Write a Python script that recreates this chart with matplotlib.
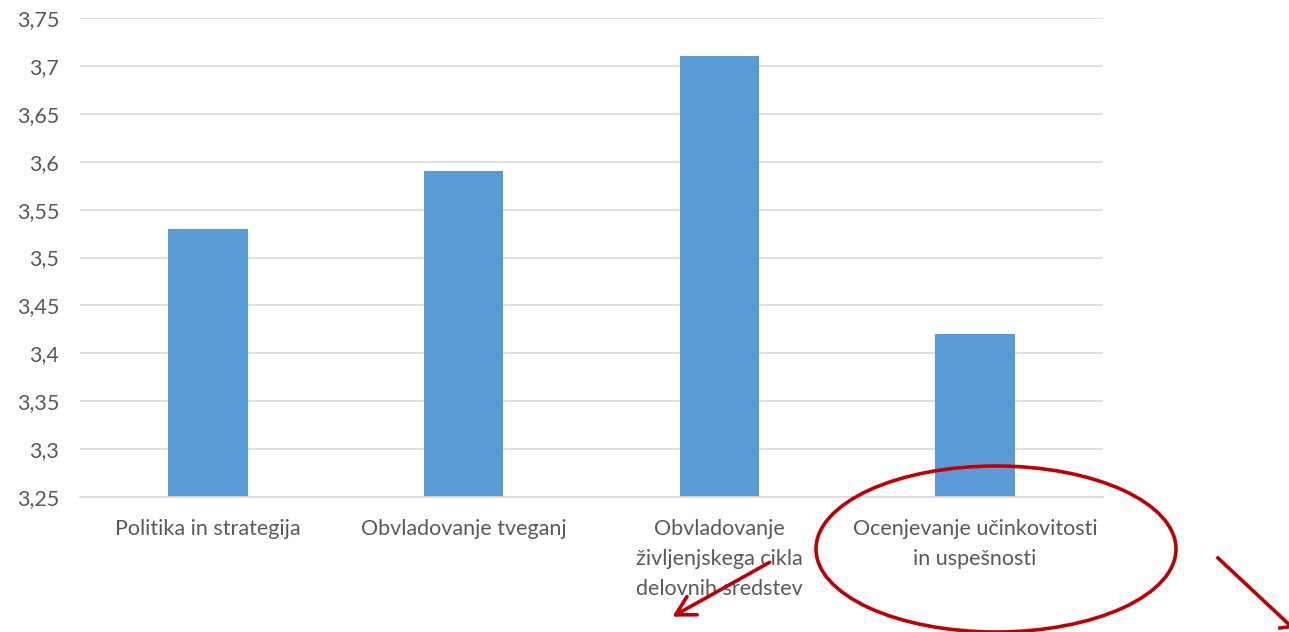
import numpy as np
import matplotlib.pyplot as plt
from matplotlib.patches import Ellipse, FancyArrowPatch
from matplotlib.ticker import FuncFormatter, MultipleLocator

categories = [
    "Politika in strategija",
    "Obvladovanje tveganj",
    "Obvladovanje\nživljenjskega cikla\ndelovnih sredstev",
    "Ocenjevanje učinkovitosti\nin uspešnosti",
]
values = [3.53, 3.59, 3.71, 3.42]

bar_color = "#5B9BD5"
grid_color = "#D9D9D9"
text_color = "#595959"
red = "#C00000"

plt.rcParams['font.family'] = ['Lato', 'DejaVu Sans']

fig = plt.figure(figsize=(12.89, 6.32), dpi=100)
ax = fig.add_axes([80 / 1289, 1 - 497 / 632, 1023 / 1289, 479 / 632])

x = np.arange(len(categories))
ax.bar(x, values, width=0.31, color=bar_color, zorder=2)

ax.set_xlim(-0.5, len(categories) - 0.5)
ax.set_ylim(3.25, 3.75)
ax.yaxis.set_major_locator(MultipleLocator(0.05))
ax.yaxis.set_major_formatter(FuncFormatter(lambda v, p: f"{round(v, 2):g}".replace('.', ',')))
ax.set_xticks(x)
ax.set_xticklabels(categories, linespacing=1.62)

ax.grid(axis='y', color=grid_color, linewidth=1.2, zorder=0)
for s in ['top', 'right', 'left']:
    ax.spines[s].set_visible(False)
ax.spines['bottom'].set_color(grid_color)
ax.spines['bottom'].set_linewidth(1.2)
ax.tick_params(axis='both', length=0, colors=text_color, labelsize=15.5)
ax.tick_params(axis='y', pad=15)
ax.tick_params(axis='x', pad=16)

# red hand-drawn annotations (figure pixel coords)
def px(xp, yp):
    return (xp / 1289, 1 - yp / 632)

ell = Ellipse(px(996, 549), 360 / 1289, 166 / 632, transform=fig.transFigure,
              fill=False, edgecolor=red, linewidth=2.6, zorder=5)
fig.add_artist(ell)

a1 = FancyArrowPatch(px(772, 561), px(670, 618), transform=fig.transFigure,
                     arrowstyle='->,head_length=9,head_width=5', color=red,
                     linewidth=2.6, mutation_scale=1.5)
fig.add_artist(a1)
l2 = plt.Line2D([1218 / 1289, 1295 / 1289], [1 - 558 / 632, 1 - 630 / 632],
                transform=fig.transFigure, color=red, linewidth=2.6)
fig.add_artist(l2)
l3 = plt.Line2D([1280 / 1289, 1295 / 1289], [1 - 628 / 632, 1 - 626 / 632],
                transform=fig.transFigure, color=red, linewidth=2.6)
fig.add_artist(l3)

fig.savefig("out.png", dpi=100)
